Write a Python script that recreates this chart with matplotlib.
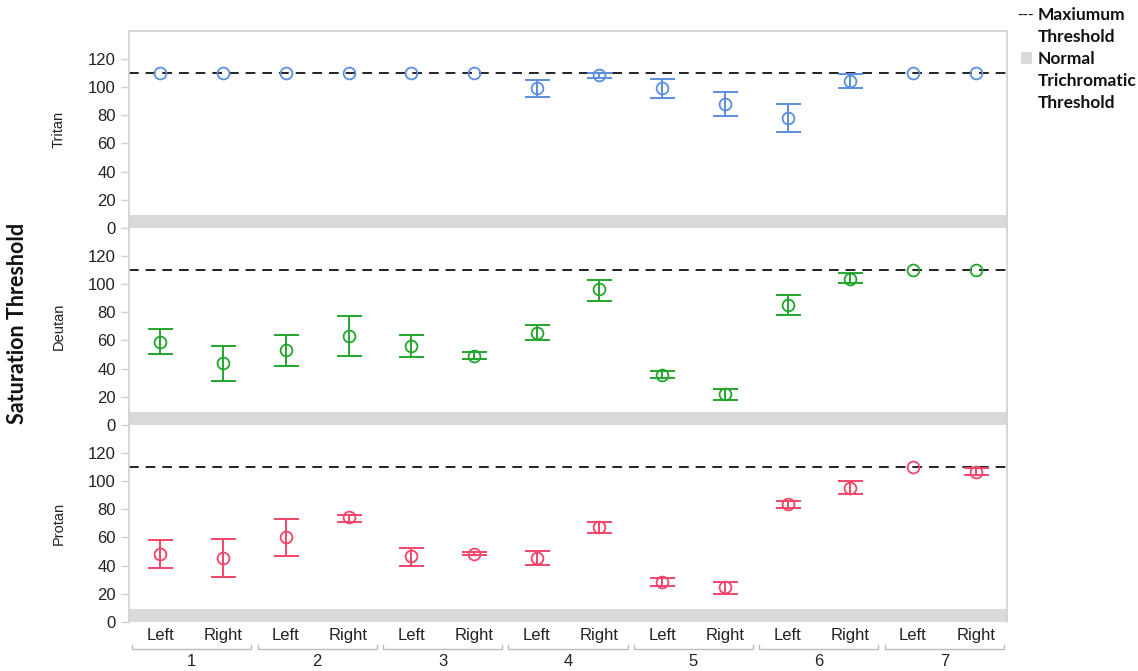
import numpy as np
import matplotlib.pyplot as plt
from matplotlib.patches import Rectangle
from matplotlib.lines import Line2D

# data
sides = ['Left', 'Right'] * 7
groups = ['1', '2', '3', '4', '5', '6', '7']
panels = ['Tritan', 'Deutan', 'Protan']

tritan_mean = [110, 110, 110, 110, 110, 110, 99, 108.5, 99, 88, 78, 104, 110, 110]
tritan_low = [110, 110, 110, 110, 110, 110, 93, 106, 92, 79, 68, 99, 110, 110]
tritan_high = [110, 110, 110, 110, 110, 110, 105, 110, 105.5, 96.5, 87.5, 109, 110, 110]

deutan_mean = [59, 44, 53, 63, 56, 49, 65, 96, 35.5, 22, 85, 103.5, 110, 110]
deutan_low = [50, 31, 42, 49, 48.5, 47, 60, 88, 33, 18, 78, 100.5, 110, 110]
deutan_high = [68, 56, 64, 77, 64, 51.5, 71, 103, 38.5, 25.5, 92, 107.5, 110, 110]

protan_mean = [48, 45, 60, 74, 46.5, 48.5, 45, 67, 28.5, 24.5, 83.5, 95, 110, 106.5]
protan_low = [38, 32, 47, 71, 40, 47.5, 40.5, 63, 25.5, 20, 81, 90.5, 110, 104]
protan_high = [58, 59, 73, 76, 52.5, 49.5, 50, 71, 31, 28, 85.5, 99.5, 110, 109]

max_threshold = 110
normal_band = 9.5

means = [tritan_mean, deutan_mean, protan_mean]
lows = [tritan_low, deutan_low, protan_low]
highs = [tritan_high, deutan_high, protan_high]
colors = ['#5b8ede', '#22a52c', '#f2456a']

plt.rcParams['font.family'] = ['Liberation Sans', 'DejaVu Sans']
plt.rcParams['lines.scale_dashes'] = False

fig = plt.figure(figsize=(11.38, 6.71), dpi=100)
left = 129 / 1138
width = (1007 - 129) / 1138
ph = 197 / 671
top = 1 - 31 / 671
spine_col = '#d0d0d0'

x = np.arange(len(sides))
axes = []
for p in range(3):
    ax = fig.add_axes([left, top - ph * (p + 1), width, ph])
    axes.append(ax)
    m = np.array(means[p], dtype=float)
    lo = np.array(lows[p], dtype=float)
    hi = np.array(highs[p], dtype=float)
    c = colors[p]

    ax.add_patch(Rectangle((-0.5, 0), 14, normal_band, color='#d9d9d9', lw=0, zorder=1))
    ax.axhline(max_threshold, color='#111111', lw=1.3, dashes=(7, 5), zorder=2)

    has_err = hi > lo
    ax.errorbar(x[has_err], m[has_err],
                yerr=[m[has_err] - lo[has_err], hi[has_err] - m[has_err]],
                fmt='none', ecolor=c, elinewidth=1.4, capsize=9, capthick=1.4, zorder=3)
    ax.plot(x, m, 'o', mfc='none', mec=c, mew=1.3, ms=8.5, zorder=4)

    ax.set_xlim(-0.5, 13.5)
    ax.set_ylim(0, 139.5)
    ax.set_yticks([0, 20, 40, 60, 80, 100, 120])
    ax.tick_params(axis='y', labelsize=12, color=spine_col, length=6, width=1, labelcolor='#222222')
    ax.set_ylabel(panels[p], fontsize=10.5, color='#222222', labelpad=16)
    for s in ax.spines.values():
        s.set_color(spine_col)
        s.set_linewidth(1.2)
    ax.spines['bottom'].set_visible(False)
    if p < 2:
        ax.set_xticks([])
    else:
        ax.set_xticks(x)
        ax.set_xticklabels(sides, fontsize=12, color='#222222')
        ax.tick_params(axis='x', length=0, pad=4)
    if p > 0:
        ax.spines['top'].set_visible(False)

# group brackets under the bottom panel
ax = axes[2]
trans = ax.get_xaxis_transform()
for g in range(len(groups)):
    a = 2 * g - 0.45
    b = 2 * g + 1.45
    ax.add_line(Line2D([a, a, b, b], [-0.118, -0.137, -0.137, -0.118], transform=trans,
                       color='#bbbbbb', lw=1, clip_on=False))
    ax.text(2 * g + 0.5, -0.2, groups[g], transform=trans, ha='center', va='center',
            fontsize=12, color='#222222')

fig.text(18 / 1138, 1 - 323 / 671, 'Saturation Threshold', rotation=90, ha='center', va='center',
         fontsize=15.5, fontweight='bold', family=['Lato', 'DejaVu Sans'], color='#111111')

# legend
lx = 1038 / 1138
fig.text(1017 / 1138, 1 - 15 / 671, '---', ha='left', va='center', fontsize=12, color='#111111')
fig.add_artist(Rectangle((1021 / 1138, 1 - 64 / 671), 11 / 1138, 12 / 671, color='#d9d9d9', lw=0))
for i, t in enumerate(['Maxiumum', 'Threshold', 'Normal', 'Trichromatic', 'Threshold']):
    fig.text(lx, 1 - (15 + 22 * i) / 671, t, ha='left', va='center', fontsize=12.5,
             fontweight='bold', family=['Lato', 'DejaVu Sans'], color='#111111')

plt.savefig('out.png', dpi=100)
